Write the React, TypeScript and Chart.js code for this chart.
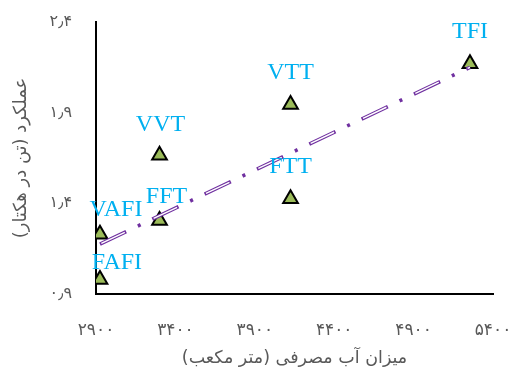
import React, { useEffect, useRef } from "react";
import { Chart, registerables } from "chart.js";

Chart.register(...registerables);

// ---- data ----
const treatments = ["FAFI", "VAFI", "FFT", "VVT", "VTT", "FTT", "TFI"];
const waterUse = [2925, 2925, 3300, 3300, 4125, 4125, 5255];
const yieldTonHa = [0.98, 1.23, 1.305, 1.665, 1.945, 1.425, 2.17];
const trendX = [2925, 5255];
const trendY = [1.175, 2.15];
const xTickLabels = ["۲۹۰۰", "۳۴۰۰", "۳۹۰۰", "۴۴۰۰", "۴۹۰۰", "۵۴۰۰"];
const yTickLabels = ["۰٫۹", "۱٫۴", "۱٫۹", "۲٫۴"];
const xTitle = "میزان آب مصرفی (متر مکعب)";
const yTitle = "عملکرد (تن در هکتار)";

// label placement (style), pixel offsets from marker
const labelOffsets: [number, number][] = [
  [17, -17],
  [16, -24],
  [7, -24],
  [1, -31],
  [0, -32],
  [0, -32],
  [0, -32],
];

const persianFont = "'DejaVu Sans', 'Noto Sans', sans-serif";

const labelPlugin = {
  id: "pointLabels",
  afterDatasetsDraw(chart: any) {
    const meta = chart.getDatasetMeta(2);
    const ctx = chart.ctx;
    ctx.save();
    ctx.font = "24px 'Liberation Serif', 'Times New Roman', serif";
    ctx.fillStyle = "#00B0F0";
    ctx.textAlign = "center";
    ctx.textBaseline = "middle";
    ctx.direction = "ltr";
    meta.data.forEach((el: any, i: number) => {
      const [dx, dy] = labelOffsets[i];
      ctx.fillText(treatments[i], el.x + dx, el.y + dy);
    });
    ctx.restore();
  },
};

export default function App() {
  const ref = useRef<HTMLCanvasElement | null>(null);
  useEffect(() => {
    if (!ref.current) return;
    const pts = waterUse.map((x, i) => ({ x, y: yieldTonHa[i] }));
    const trend = trendX.map((x, i) => ({ x, y: trendY[i] }));
    const chart = new Chart(ref.current, {
      type: "scatter",
      data: {
        datasets: [
          {
            data: trend,
            showLine: true,
            borderColor: "#ffffff",
            borderWidth: 1.4,
            borderDash: [26, 32],
            borderDashOffset: -1.5,
            pointRadius: 0,
            borderCapStyle: "butt",
          } as any,
          {
            data: trend,
            showLine: true,
            borderColor: "#7030A0",
            borderWidth: 3.6,
            borderDash: [29, 13, 3, 13],
            pointRadius: 0,
            borderCapStyle: "butt",
          } as any,
          {
            data: pts,
            pointStyle: "triangle",
            pointRadius: 8.5,
            pointBackgroundColor: "#9BBB59",
            pointBorderColor: "#000000",
            pointBorderWidth: 2,
          } as any,
        ],
      },
      options: {
        responsive: false,
        animation: false,
        events: [],
        layout: { padding: { top: 22, right: 19, left: 0, bottom: 0 } },
        plugins: { legend: { display: false }, tooltip: { enabled: false } },
        scales: {
          x: {
            type: "linear",
            min: 2900,
            max: 5400,
            afterFit: (s: any) => {
              s.height = 79;
              s.paddingLeft = 0;
              s.paddingRight = 0;
            },
            ticks: {
              stepSize: 500,
              padding: 26,
              color: "#595959",
              font: { family: persianFont, size: 17 },
              maxRotation: 0,
              callback: (_v: any, i: number) => xTickLabels[i],
            },
            grid: { display: false, drawTicks: false },
            border: { display: true, color: "#000000", width: 2 },
            title: {
              display: true,
              text: xTitle,
              color: "#595959",
              font: { family: persianFont, size: 17.5 },
              padding: { top: 0, bottom: 4 },
            },
          },
          y: {
            type: "linear",
            min: 0.9,
            max: 2.4,
            afterFit: (s: any) => {
              s.width = 96;
              s.paddingTop = 0;
              s.paddingBottom = 0;
            },
            ticks: {
              stepSize: 0.5,
              padding: 24,
              color: "#595959",
              font: { family: persianFont, size: 16 },
              callback: (_v: any, i: number) => yTickLabels[i],
            },
            grid: { display: false, drawTicks: false },
            border: { display: true, color: "#000000", width: 2 },
            title: {
              display: true,
              text: yTitle,
              color: "#595959",
              font: { family: persianFont, size: 18 },
              padding: { top: 11, bottom: 0 },
            },
          },
        },
      },
      plugins: [labelPlugin],
    });
    return () => chart.destroy();
  }, []);
  return (
    <div style={{ position: "fixed", left: 0, top: 0, width: 512, height: 373, background: "#fff" }}>
      <canvas ref={ref} width={512} height={373} dir="rtl" style={{ display: "block" }} />
    </div>
  );
}
